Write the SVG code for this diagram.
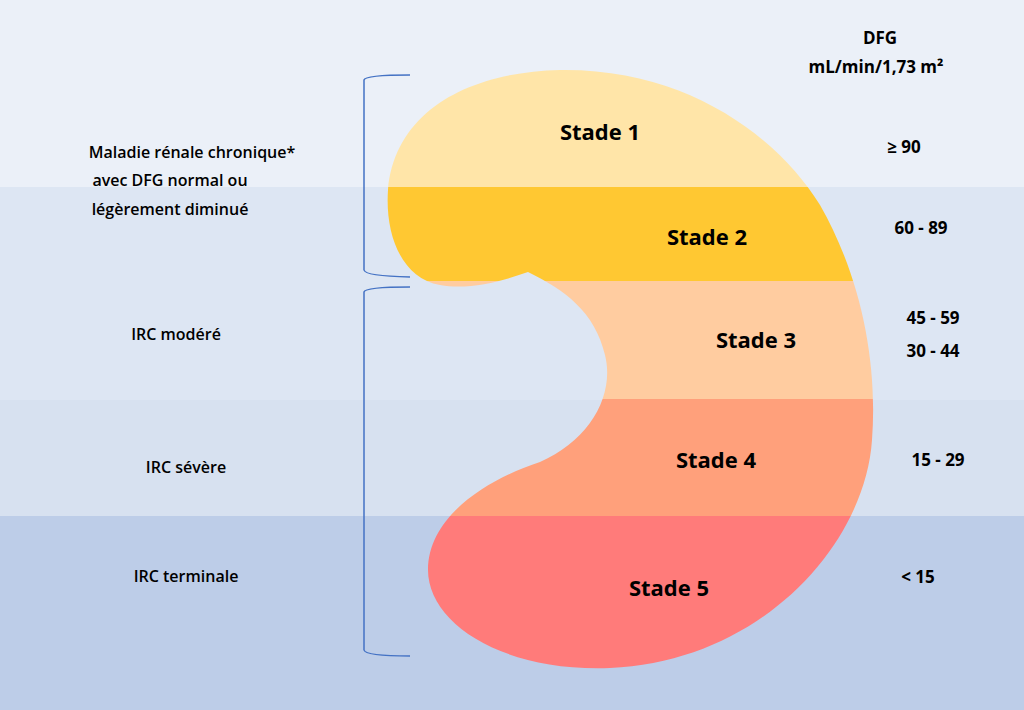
<svg xmlns="http://www.w3.org/2000/svg" width="1024" height="710" viewBox="0 0 1024 710">
<style>
text{font-family:"Open Sans","Liberation Sans",sans-serif;font-weight:bold;fill:#000}
.st{font-size:22px;text-anchor:middle}
.lb{font-size:16px;text-anchor:middle;font-weight:600}
.nm{font-size:17px;text-anchor:middle}
.br{fill:none;stroke:#4472c4;stroke-width:1.5}
</style>
<defs><clipPath id="k"><path d="M560,70 C690,68 780,140 820,205 C860,275 878,360 872,440 C865,545 760,662 610,668 C500,672 428,622 428,570 C428,515 490,478 540,462 C590,440 615,395 605,355 C595,312 565,290 528,272 C500,282 468,290 440,285 C400,278 385,232 388,190 C395,110 470,72 560,70 Z"/></clipPath></defs>
<g id="background">
<rect x="0" y="0" width="1024" height="187" fill="#ebf0f8"/>
<rect x="0" y="187" width="1024" height="213" fill="#dde6f3"/>
<rect x="0" y="400" width="1024" height="116" fill="#d7e1f0"/>
<rect x="0" y="516" width="1024" height="194" fill="#bdcde8"/>
</g>
<g id="kidney" clip-path="url(#k)">
<rect x="380" y="60" width="510" height="127" fill="#ffe5a8"/>
<rect x="380" y="187" width="510" height="94" fill="#ffc832"/>
<rect x="380" y="281" width="510" height="118" fill="#ffcca0"/>
<rect x="380" y="399" width="510" height="117" fill="#ffa07b"/>
<rect x="380" y="516" width="510" height="160" fill="#ff7b7a"/>
</g>
<g id="connectors">
<path class="br" d="M410,75 Q365,75 364,80 L364,270 Q365,276 410,277"/>
<path class="br" d="M410,287 Q365,287 364,292 L364,650 Q365,656 410,656"/>
</g>
<g id="stages">
<text class="st" x="600" y="140">Stade 1</text>
<text class="st" x="707" y="245">Stade 2</text>
<text class="st" x="756" y="348">Stade 3</text>
<text class="st" x="716" y="468">Stade 4</text>
<text class="st" x="669" y="596">Stade 5</text>
</g>
<g id="labels">
<text class="lb" x="192" y="158">Maladie rénale chronique*</text>
<text class="lb" x="170" y="186">avec DFG normal ou</text>
<text class="lb" x="170" y="215">légèrement diminué</text>
<text class="lb" x="176" y="340">IRC modéré</text>
<text class="lb" x="186" y="473">IRC sévère</text>
<text class="lb" x="186" y="582">IRC terminale</text>
</g>
<g id="values">
<text class="nm" x="880" y="44">DFG</text>
<text class="nm" x="876" y="73">mL/min/1,73 m²</text>
<text class="nm" x="904" y="153">≥ 90</text>
<text class="nm" x="921" y="234">60 - 89</text>
<text class="nm" x="933" y="324">45 - 59</text>
<text class="nm" x="933" y="357">30 - 44</text>
<text class="nm" x="938" y="466">15 - 29</text>
<text class="nm" x="918" y="583">&lt; 15</text>
</g>
</svg>
